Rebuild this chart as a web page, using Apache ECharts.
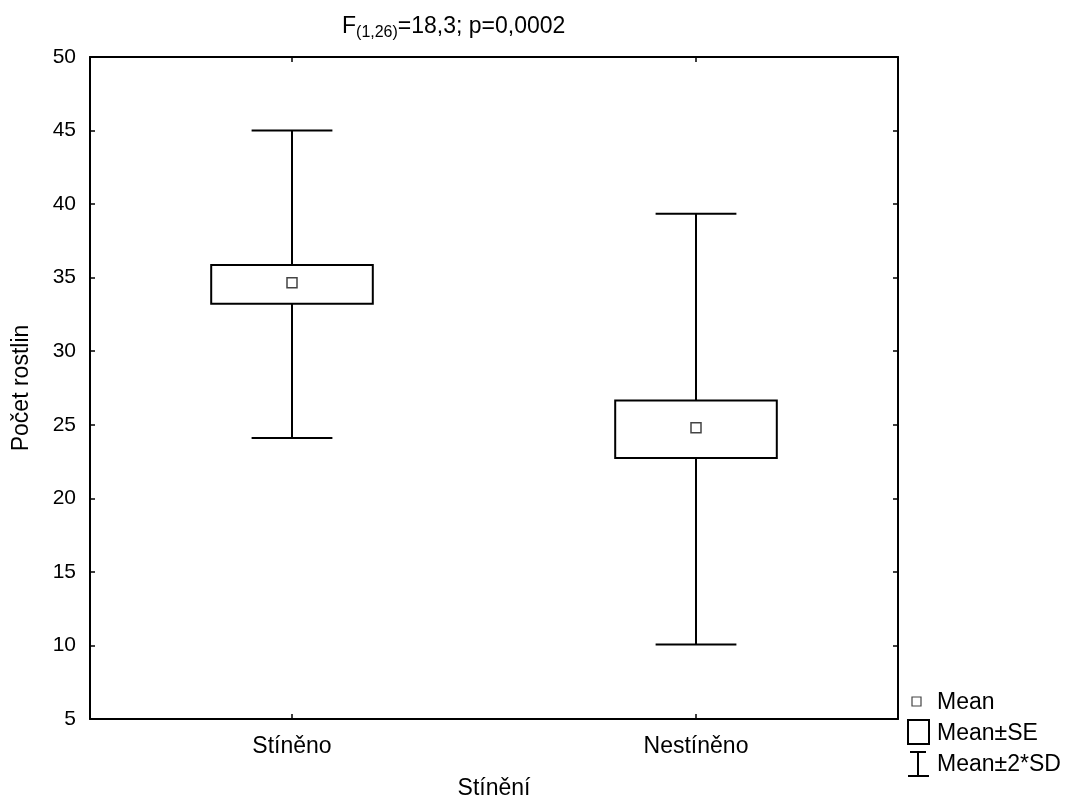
<!DOCTYPE html>
<html>
<head>
<meta charset="utf-8">
<script src="https://cdn.jsdelivr.net/npm/echarts@6/dist/echarts.min.js"></script>
<style>html,body{margin:0;padding:0;background:#fff}#c{width:1069px;height:805px}</style>
</head>
<body>
<div id="c"></div>
<script>
const categories = ['Stíněno', 'Nestíněno'];
const means = [34.65, 24.8];
const seLow = [33.22, 22.75];
const seHigh = [35.86, 26.65];
const sdLow = [24.1, 10.07];
const sdHigh = [45.0, 39.35];
const yTicks = [5, 10, 15, 20, 25, 30, 35, 40, 45, 50];
const legendLabels = ['Mean', 'Mean±SE', 'Mean±2*SD'];

const FONT = 'Liberation Sans, Arial, sans-serif';
const TXT = 23;
const data = categories.map((c, i) => [i, sdLow[i], seLow[i], means[i], seHigh[i], sdHigh[i]]);

const chart = echarts.init(document.getElementById('c'));
chart.setOption({
  animation: false,
  backgroundColor: '#fff',
  title: {
    text: '{f|F}{s|(1,26)}{f|=18,3; p=0,0002}',
    left: 337, top: 10,
    textStyle: {
      fontWeight: 'normal',
      rich: {
        f: { fontFamily: FONT, fontSize: TXT, fontWeight: 'normal', color: '#000', lineHeight: 26, verticalAlign: 'top' },
        s: { fontFamily: FONT, fontSize: 16, fontWeight: 'normal', color: '#000', lineHeight: 18, padding: [13, 0, 0, 0], verticalAlign: 'bottom' }
      }
    }
  },
  grid: { left: 90, right: 171, top: 57, bottom: 83, containLabel: false },
  xAxis: [{
    type: 'category', data: categories, position: 'bottom',
    name: 'Stínění', nameLocation: 'middle', nameGap: 58,
    nameTextStyle: { fontFamily: FONT, fontSize: TXT, color: '#000' },
    axisLine: { show: true, lineStyle: { color: '#000', width: 2 } },
    axisTick: { show: true, inside: true, alignWithLabel: true, length: 5, lineStyle: { color: '#000', width: 1.5 } },
    axisLabel: { fontFamily: FONT, fontSize: TXT, color: '#000', margin: 16 },
    splitLine: { show: false }
  }, {
    type: 'category', data: categories, position: 'top',
    axisLine: { show: true, lineStyle: { color: '#000', width: 2 } },
    axisTick: { show: true, inside: true, alignWithLabel: true, length: 5, lineStyle: { color: '#000', width: 1.5 } },
    axisLabel: { show: false }, splitLine: { show: false }
  }],
  yAxis: [{
    type: 'value', min: 5, max: 50, interval: 5, position: 'left',
    name: 'Počet rostlin', nameLocation: 'middle', nameGap: 57,
    nameTextStyle: { fontFamily: FONT, fontSize: TXT, color: '#000' },
    axisLine: { show: true, lineStyle: { color: '#000', width: 2 } },
    axisTick: { show: true, inside: true, length: 5, lineStyle: { color: '#000', width: 1.5 } },
    axisLabel: { fontFamily: FONT, fontSize: 21, color: '#000', margin: 14,
      formatter: v => yTicks.includes(v) ? String(v) : '' },
    splitLine: { show: false }
  }, {
    type: 'value', min: 5, max: 50, interval: 5, position: 'right',
    axisLine: { show: true, lineStyle: { color: '#000', width: 2 } },
    axisTick: { show: true, inside: true, length: 5, lineStyle: { color: '#000', width: 1.5 } },
    axisLabel: { show: false }, splitLine: { show: false }
  }],
  series: [{
    type: 'custom',
    xAxisIndex: 0, yAxisIndex: 0,
    data: data,
    encode: { x: 0, y: [1, 2, 3, 4, 5] },
    renderItem: function (params, api) {
      const xi = api.value(0);
      const cx = api.coord([xi, 0])[0];
      const band = api.size([1, 0])[0];
      const y = k => api.coord([xi, api.value(k)])[1];
      const ySdLo = y(1), ySeLo = y(2), yMean = y(3), ySeHi = y(4), ySdHi = y(5);
      const capW = band * 0.2, boxW = band * 0.4;
      const ls = { stroke: '#000', lineWidth: 2, fill: null };
      return {
        type: 'group',
        children: [
          { type: 'line', shape: { x1: cx, y1: ySdLo, x2: cx, y2: ySdHi }, style: ls },
          { type: 'line', shape: { x1: cx - capW / 2, y1: ySdLo, x2: cx + capW / 2, y2: ySdLo }, style: ls },
          { type: 'line', shape: { x1: cx - capW / 2, y1: ySdHi, x2: cx + capW / 2, y2: ySdHi }, style: ls },
          { type: 'rect', shape: { x: cx - boxW / 2, y: ySeHi, width: boxW, height: ySeLo - ySeHi },
            style: { stroke: '#000', lineWidth: 2, fill: '#fff' } },
          { type: 'rect', shape: { x: cx - 5, y: yMean - 5, width: 10, height: 10 },
            style: { stroke: '#444', lineWidth: 1.5, fill: '#fff' } }
        ]
      };
    }
  }],
  graphic: [
    { type: 'rect', shape: { x: 912, y: 697, width: 9, height: 9 }, style: { stroke: '#444', lineWidth: 1.2, fill: '#fff' } },
    { type: 'text', x: 937, y: 703, style: { text: legendLabels[0], font: TXT + 'px ' + FONT, fill: '#000', verticalAlign: 'middle' } },
    { type: 'rect', shape: { x: 908, y: 720, width: 21, height: 24 }, style: { stroke: '#000', lineWidth: 2, fill: '#fff' } },
    { type: 'text', x: 937, y: 734, style: { text: legendLabels[1], font: TXT + 'px ' + FONT, fill: '#000', verticalAlign: 'middle' } },
    { type: 'line', shape: { x1: 910, y1: 752, x2: 926, y2: 752 }, style: { stroke: '#000', lineWidth: 2 } },
    { type: 'line', shape: { x1: 918, y1: 752, x2: 918, y2: 776 }, style: { stroke: '#000', lineWidth: 2 } },
    { type: 'line', shape: { x1: 908, y1: 776, x2: 929, y2: 776 }, style: { stroke: '#000', lineWidth: 2 } },
    { type: 'text', x: 937, y: 765, style: { text: legendLabels[2], font: TXT + 'px ' + FONT, fill: '#000', verticalAlign: 'middle' } }
  ]
});
</script>
</body>
</html>
